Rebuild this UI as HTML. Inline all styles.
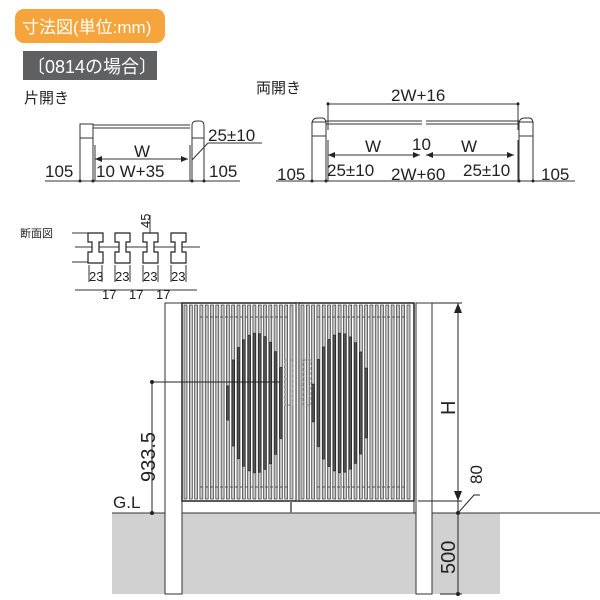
<!DOCTYPE html>
<html><head><meta charset="utf-8"><style>
body{margin:0;background:#fff}
svg{display:block}
text{font-family:"Liberation Sans","Noto Sans CJK JP",sans-serif;fill:#222}
</style></head><body>
<svg id="s" width="600" height="600" viewBox="0 0 600 600" xmlns="http://www.w3.org/2000/svg">
<rect x="15" y="9" width="150" height="34" rx="9" fill="#f5a53c"/>
<text x="22" y="33" font-size="17" style="fill:#fff">寸法図(単位:mm)</text>
<rect x="23" y="51" width="134" height="29" fill="#5f6062"/>
<text x="27" y="73" font-size="18" style="fill:#fff">〔0814の場合〕</text>
<text x="24" y="103" font-size="15">片開き</text>
<text x="256" y="93" font-size="15">両開き</text>
<g stroke="#333" stroke-width="1" fill="none">
<rect x="80" y="124" width="13" height="14" fill="#fff"/>
<path d="M93 125H190M93 128H190"/>
<path d="M192 138V125Q192 121 197 121H200Q204 121 204 126V138Z" fill="#fff"/>
<path d="M80 138V181M93 138V181M192 138V181M204 138V181M95 145V181M190 145V181"/>
<path d="M45 181H240"/>
<path d="M95 159H188"/>
<path d="M208 143H262M208 143L192 160"/>
<rect x="312" y="122" width="14" height="14" fill="#fff"/>
<rect x="519" y="122" width="14" height="14" fill="#fff"/>
<path d="M312 124Q312 118 318 118H322Q326 118 326 124"/>
<path d="M519 124Q519 118 525 118H529Q533 118 533 124"/>
<path d="M326 121H422M426 121H519M326 124H422M426 124H519"/>
<path d="M328 104H518M328 102V130M518 102V130"/>
<path d="M312 136V181M326 136V181M519 136V181M533 136V181M328 140V181M518 140V181"/>
<path d="M276 181H575"/>
<path d="M328 155H420M426 155H514"/>
<path d="M75 247H200M72 233H88M72 262H88"/>
<path d="M75 290H197M89 265V282M102 265V282M115 265V282M130 265V282M143 265V282M158 265V282M171 265V282M186 265V282M150 215V263"/>
</g>
<g fill="#222">
<path d="M95 159l7-3v6zM188 159l-7-3v6zM420 155l-7-3v6zM426 155l7-3v6zM328 155l7-3v6zM514 155l-7-3v6z"/>
<circle cx="80" cy="181" r="1.5"/><circle cx="93" cy="181" r="1.5"/><circle cx="192" cy="181" r="1.5"/><circle cx="204" cy="181" r="1.5"/>
<circle cx="312" cy="181" r="1.5"/><circle cx="326" cy="181" r="1.5"/><circle cx="519" cy="181" r="1.5"/><circle cx="533" cy="181" r="1.5"/>
<circle cx="328" cy="104" r="1.5"/><circle cx="518" cy="104" r="1.5"/>
</g>
<g font-size="17">
<text x="134" y="157">W</text>
<text x="45" y="177">105</text>
<text x="96" y="177">10 W+35</text>
<text x="209" y="177">105</text>
<text x="208" y="141">25±10</text>
<text x="391" y="101">2W+16</text>
<text x="365" y="152">W</text>
<text x="461" y="152">W</text>
<text x="412" y="150">10</text>
<text x="327" y="176">25±10</text>
<text x="391" y="180">2W+60</text>
<text x="463" y="176">25±10</text>
<text x="277" y="180">105</text>
<text x="541" y="180">105</text>
</g>
<text x="20" y="237" font-size="11">断面図</text>
<g font-size="13"><text x="89" y="281">23</text><text x="115" y="281">23</text><text x="143" y="281">23</text><text x="171" y="281">23</text>
<text x="102" y="299">17</text><text x="129" y="299">17</text><text x="156" y="299">17</text>
<text transform="translate(150,228) rotate(-90)">45</text></g>
<g id="prof" stroke="#222" fill="#fff" stroke-width="1.2"></g>
<rect x="112" y="513" width="388" height="81" fill="#d1d1d1"/>
<path d="M112 513H600" stroke="#333"/>
<rect x="165" y="303" width="17" height="291" fill="#fff" stroke="#333"/>
<rect x="416" y="303" width="16" height="291" fill="#fff" stroke="#333"/>
<g id="slats"></g>
<rect x="182" y="303" width="232" height="198" fill="none" stroke="#222" stroke-width="1.5"/>
<rect x="296" y="303" width="3" height="198" fill="#eee" stroke="#222"/>
<path d="M291 501V513" stroke="#777" stroke-width="2"/>
<path d="M182 513V501M414 513V501" stroke="#333"/>
<rect x="285" y="360" width="8" height="45" fill="none" stroke="#888" stroke-dasharray="3,2"/>
<rect x="303" y="360" width="8" height="45" fill="none" stroke="#888" stroke-dasharray="3,2"/>
<g stroke="#222" fill="none">
<path d="M152 382H280M152 382V513"/>
<path d="M432 303H462M418 501H462M458 303V594"/>
<path d="M440 594H462"/>
<path d="M458 513L474 495H480"/>
</g>
<g fill="#222"><circle cx="152" cy="382" r="2"/><circle cx="152" cy="513" r="2"/><circle cx="458" cy="513" r="2"/><circle cx="458" cy="594" r="2"/>
<path d="M458 303l-4 10h8zM458 501l-4-10h8z"/></g>
<text x="113" y="508" font-size="17">G.L</text>
<text transform="translate(155,482) rotate(-90)" font-size="20">933.5</text>
<text transform="translate(455,415) rotate(-90)" font-size="20">H</text>
<text transform="translate(482,484) rotate(-90)" font-size="17">80</text>
<text transform="translate(455,574) rotate(-90)" font-size="20">500</text>
</svg>
<script>
var NS="http://www.w3.org/2000/svg",s=document.getElementById("slats");
function el(t,a,p){var e=document.createElementNS(NS,t);for(var k in a)e.setAttribute(k,a[k]);(p||s).appendChild(e);}
el("rect",{x:182,y:303,width:232,height:198,fill:"#fff"});
function side(x0,x1,cx){for(var x=x0;x<x1;x+=5.3){el("rect",{x:x,y:305,width:3,height:194,fill:"#c4c4c4",stroke:"#222","stroke-width":0.6});
var d=(x+1.5-cx)/29;if(Math.abs(d)<1){var h=70*Math.sqrt(1-d*d);el("rect",{x:x+0.3,y:403-h,width:2.4,height:2*h,rx:1.2,fill:"#555",stroke:"#222","stroke-width":0.6});}}
el("path",{d:"M"+(x0+16)+" 317H"+(x1-6)+"M"+(x0+16)+" 487H"+(x1-6),stroke:"#555","stroke-dasharray":"3,2",fill:"none"});}
side(184,295,256);side(301,412,341);
var p=document.getElementById("prof");
[88,115,143,171].forEach(function(x){el("path",{d:"M"+x+" 233h15v9h-4v10h4v11h-15v-11h4v-10h-4z"},p);});
</script>
</body></html>
